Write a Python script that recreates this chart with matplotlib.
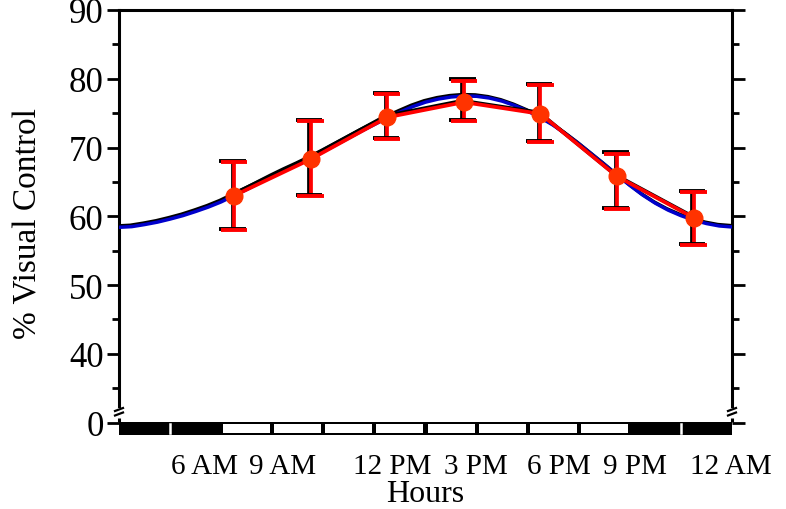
import matplotlib
matplotlib.use('Agg')
import matplotlib.pyplot as plt
import matplotlib.patheffects as pe
from matplotlib.patches import Rectangle
import numpy as np

plt.rcParams['font.family'] = ['Liberation Serif', 'DejaVu Serif']

# ---- data ----
point_hours = [4.5, 7.5, 10.5, 13.5, 16.5, 19.5, 22.5]
point_values = [63.0, 68.3, 74.4, 76.6, 74.9, 65.8, 59.8]
err_upper = [67.9, 73.8, 77.8, 79.7, 79.1, 69.1, 63.5]
err_lower = [58.0, 62.9, 71.2, 73.8, 70.8, 61.0, 55.8]

curve_hours = [0, 0.5, 1, 1.5, 2, 2.5, 3, 3.5, 4, 4.5, 5, 5.5, 6, 6.5, 7, 7.5,
               8, 8.5, 9, 9.5, 10, 10.5, 11, 11.5, 12, 12.5, 13, 13.5, 14,
               14.5, 15, 15.5, 16, 16.5, 17, 17.5, 18, 18.5, 19, 19.5, 20,
               20.5, 21, 21.5, 22, 22.5, 23, 23.5, 24]
curve_values = [58.4, 58.5, 58.8, 59.15, 59.6, 60.1, 60.7, 61.35, 62.1, 63.0,
                63.9, 64.85, 65.8, 66.7, 67.55, 68.45, 69.4, 70.4, 71.4, 72.4,
                73.35, 74.3, 75.15, 75.95, 76.6, 77.05, 77.35, 77.5, 77.45,
                77.2, 76.75, 76.1, 75.3, 74.35, 73.25, 71.95, 70.55, 69.05,
                67.55, 66.0, 64.5, 63.1, 61.9, 60.9, 60.1, 59.45, 58.95,
                58.6, 58.45]

# light/dark schedule, 2-hour blocks
schedule = ['D', 'D', 'L', 'L', 'L', 'L', 'L', 'L', 'L', 'L', 'D', 'D']

ytick_vals = [30, 40, 50, 60, 70, 80, 90]
ytick_labels = ['0', '40', '50', '60', '70', '80', '90']
yminor_vals = [35, 45, 55, 65, 75, 85]

xtick_pos = [3.33, 6.42, 10.69, 13.98, 17.23, 20.2, 23.96]
xtick_labels = ['6 AM', '9 AM', '12 PM', '3 PM', '6 PM', '9 PM', '12 AM']

# ---- figure ----
W, H = 786, 510
fig = plt.figure(figsize=(W / 100, H / 100), dpi=100)
x0, x1, ytop, ybot = 119, 732, 11, 436
ax = fig.add_axes([x0 / W, 1 - ybot / H, (x1 - x0) / W, (ybot - ytop) / H])
ax.set_xlim(0, 24)
ax.set_ylim(28.2, 90)

shadow = [pe.SimpleLineShadow(offset=(-1.0, 1.0), shadow_color='black', alpha=1.0),
          pe.Normal()]

ax.plot(curve_hours, curve_values, color='#0000CC', lw=2.5,
        solid_capstyle='round', solid_joinstyle='round',
        path_effects=shadow, zorder=3)

pv = np.array(point_values)
yerr = [pv - np.array(err_lower), np.array(err_upper) - pv]
eb = ax.errorbar(point_hours, point_values, yerr=yerr, fmt='-', color='#FF0000',
                 lw=2.7, ecolor='#FF0000', elinewidth=2.7, capsize=9.5,
                 capthick=2.8, zorder=4)
eb.lines[0].set_path_effects(shadow)
for c in eb.lines[1]:
    c.set_path_effects(shadow)
for bc in eb.lines[2]:
    bc.set_path_effects(shadow)
ax.plot(point_hours, point_values, 'o', color='#FF3300', ms=12, mec='#FF3300',
        zorder=5)

# spines
for s in ['top', 'left', 'right']:
    ax.spines[s].set_linewidth(2.2)
ax.spines['bottom'].set_visible(False)
ax.spines['left'].set_bounds(32.4, 90)
ax.spines['right'].set_bounds(32.4, 90)

ax.set_yticks(ytick_vals)
ax.set_yticklabels(ytick_labels)
ax.set_yticks(yminor_vals, minor=True)
ax.tick_params(axis='y', which='both', left=True, right=True, direction='out',
               width=2.0, labelsize=25, pad=2)
ax.tick_params(axis='y', which='major', length=9)
ax.tick_params(axis='y', which='minor', length=5)

ax.set_xticks(xtick_pos)
ax.set_xticklabels(xtick_labels)
ax.tick_params(axis='x', length=0, labelsize=21, pad=13)
ax.set_xlabel('Hours', fontsize=23, labelpad=0)
ax.set_ylabel('% Visual Control', fontsize=24)
ax.yaxis.set_label_coords((44 - x0) / (x1 - x0), 0.5)

# break marks on both spines
px = 1.0 / (x1 - x0)
py = 1.0 / (ybot - ytop)
def ay(pix):
    return (ybot - pix) * py
for xa in (0.0, 1.0):
    ax.plot([xa, xa], [ay(418.5), ay(423)], color='black', lw=2.2,
            transform=ax.transAxes, clip_on=False, solid_capstyle='butt')
    for yc in (410.5, 415.0):
        ax.plot([xa - 4 * px, xa + 4 * px], [ay(yc + 1.5), ay(yc - 1.5)],
                color='black', lw=1.6, transform=ax.transAxes, clip_on=False)

# light/dark bar
bar_lo, bar_hi = 28.25, 30.1
ax.add_patch(Rectangle((0, bar_lo), 24, bar_hi - bar_lo, facecolor='black',
                       edgecolor='none', zorder=6, clip_on=False))
seg = 24 / len(schedule)
hx = 2.0 / 25.54
hy = 0.3
for i, s in enumerate(schedule):
    if s == 'L':
        ax.add_patch(Rectangle((i * seg + hx, bar_lo + hy), seg - 2 * hx,
                               bar_hi - bar_lo - 2 * hy, facecolor='white',
                               edgecolor='none', zorder=7, clip_on=False))
    elif i % 2 == 1:
        ax.plot([i * seg, i * seg], [bar_lo + hy, bar_hi - hy], color='white',
                lw=1.8, zorder=7, clip_on=False)

fig.savefig('out.png', dpi=100)
